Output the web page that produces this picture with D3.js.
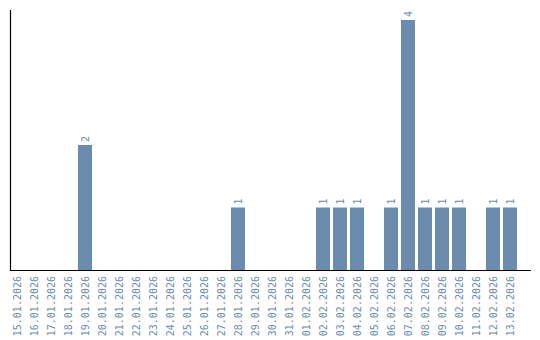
<!DOCTYPE html>
<html>
<head>
<meta charset="utf-8">
<script src="https://cdn.jsdelivr.net/npm/d3@7"></script>
<style>
  html, body { margin: 0; padding: 0; background: #fff; }
  svg { display: block; }
  text { font-family: "DejaVu Sans Mono", monospace; font-size: 10px; fill: #6b8cae; }
</style>
</head>
<body>
<svg id="chart" width="540" height="340"></svg>
<script>
const dates = ["15.01.2026","16.01.2026","17.01.2026","18.01.2026","19.01.2026","20.01.2026","21.01.2026","22.01.2026","23.01.2026","24.01.2026","25.01.2026","26.01.2026","27.01.2026","28.01.2026","29.01.2026","30.01.2026","31.01.2026","01.02.2026","02.02.2026","03.02.2026","04.02.2026","05.02.2026","06.02.2026","07.02.2026","08.02.2026","09.02.2026","10.02.2026","11.02.2026","12.02.2026","13.02.2026"];
const counts = [0,0,0,0,2,0,0,0,0,0,0,0,0,1,0,0,0,0,1,1,1,0,1,4,1,1,1,0,1,1];

const svg = d3.select("#chart");
const barColor = "#6b8cae";

const x = d3.scaleBand().domain(dates).range([10, 517]).paddingInner(3/17).paddingOuter(0);
const y = d3.scaleLinear().domain([0, 4]).range([270, 20]);

const data = dates.map((d, i) => ({date: d, value: counts[i]}));

svg.append("g").selectAll("rect")
  .data(data.filter(d => d.value > 0))
  .join("rect")
  .attr("x", d => x(d.date))
  .attr("y", d => y(d.value))
  .attr("width", x.bandwidth())
  .attr("height", d => y(0) - y(d.value))
  .attr("fill", barColor);

svg.append("g").selectAll("text")
  .data(data.filter(d => d.value > 0))
  .join("text")
  .attr("transform", d => `translate(${x(d.date) + x.bandwidth()/2},${y(d.value) - 3}) rotate(-90)`)
  .attr("dy", "0.35em")
  .attr("text-anchor", "start")
  .text(d => d.value);

// x tick labels
svg.append("g").selectAll("text")
  .data(dates)
  .join("text")
  .attr("transform", d => `translate(${x(d) + x.bandwidth()/2},276) rotate(-90)`)
  .attr("dy", "0.35em")
  .attr("text-anchor", "end")
  .text(d => d);

// axes lines
svg.append("line").attr("x1", 10.5).attr("x2", 10.5).attr("y1", 10).attr("y2", 271)
  .attr("stroke", "#000").attr("stroke-width", 1.2);
svg.append("line").attr("x1", 10).attr("x2", 531).attr("y1", 270.5).attr("y2", 270.5)
  .attr("stroke", "#000").attr("stroke-width", 1.2);
</script>
</body>
</html>
